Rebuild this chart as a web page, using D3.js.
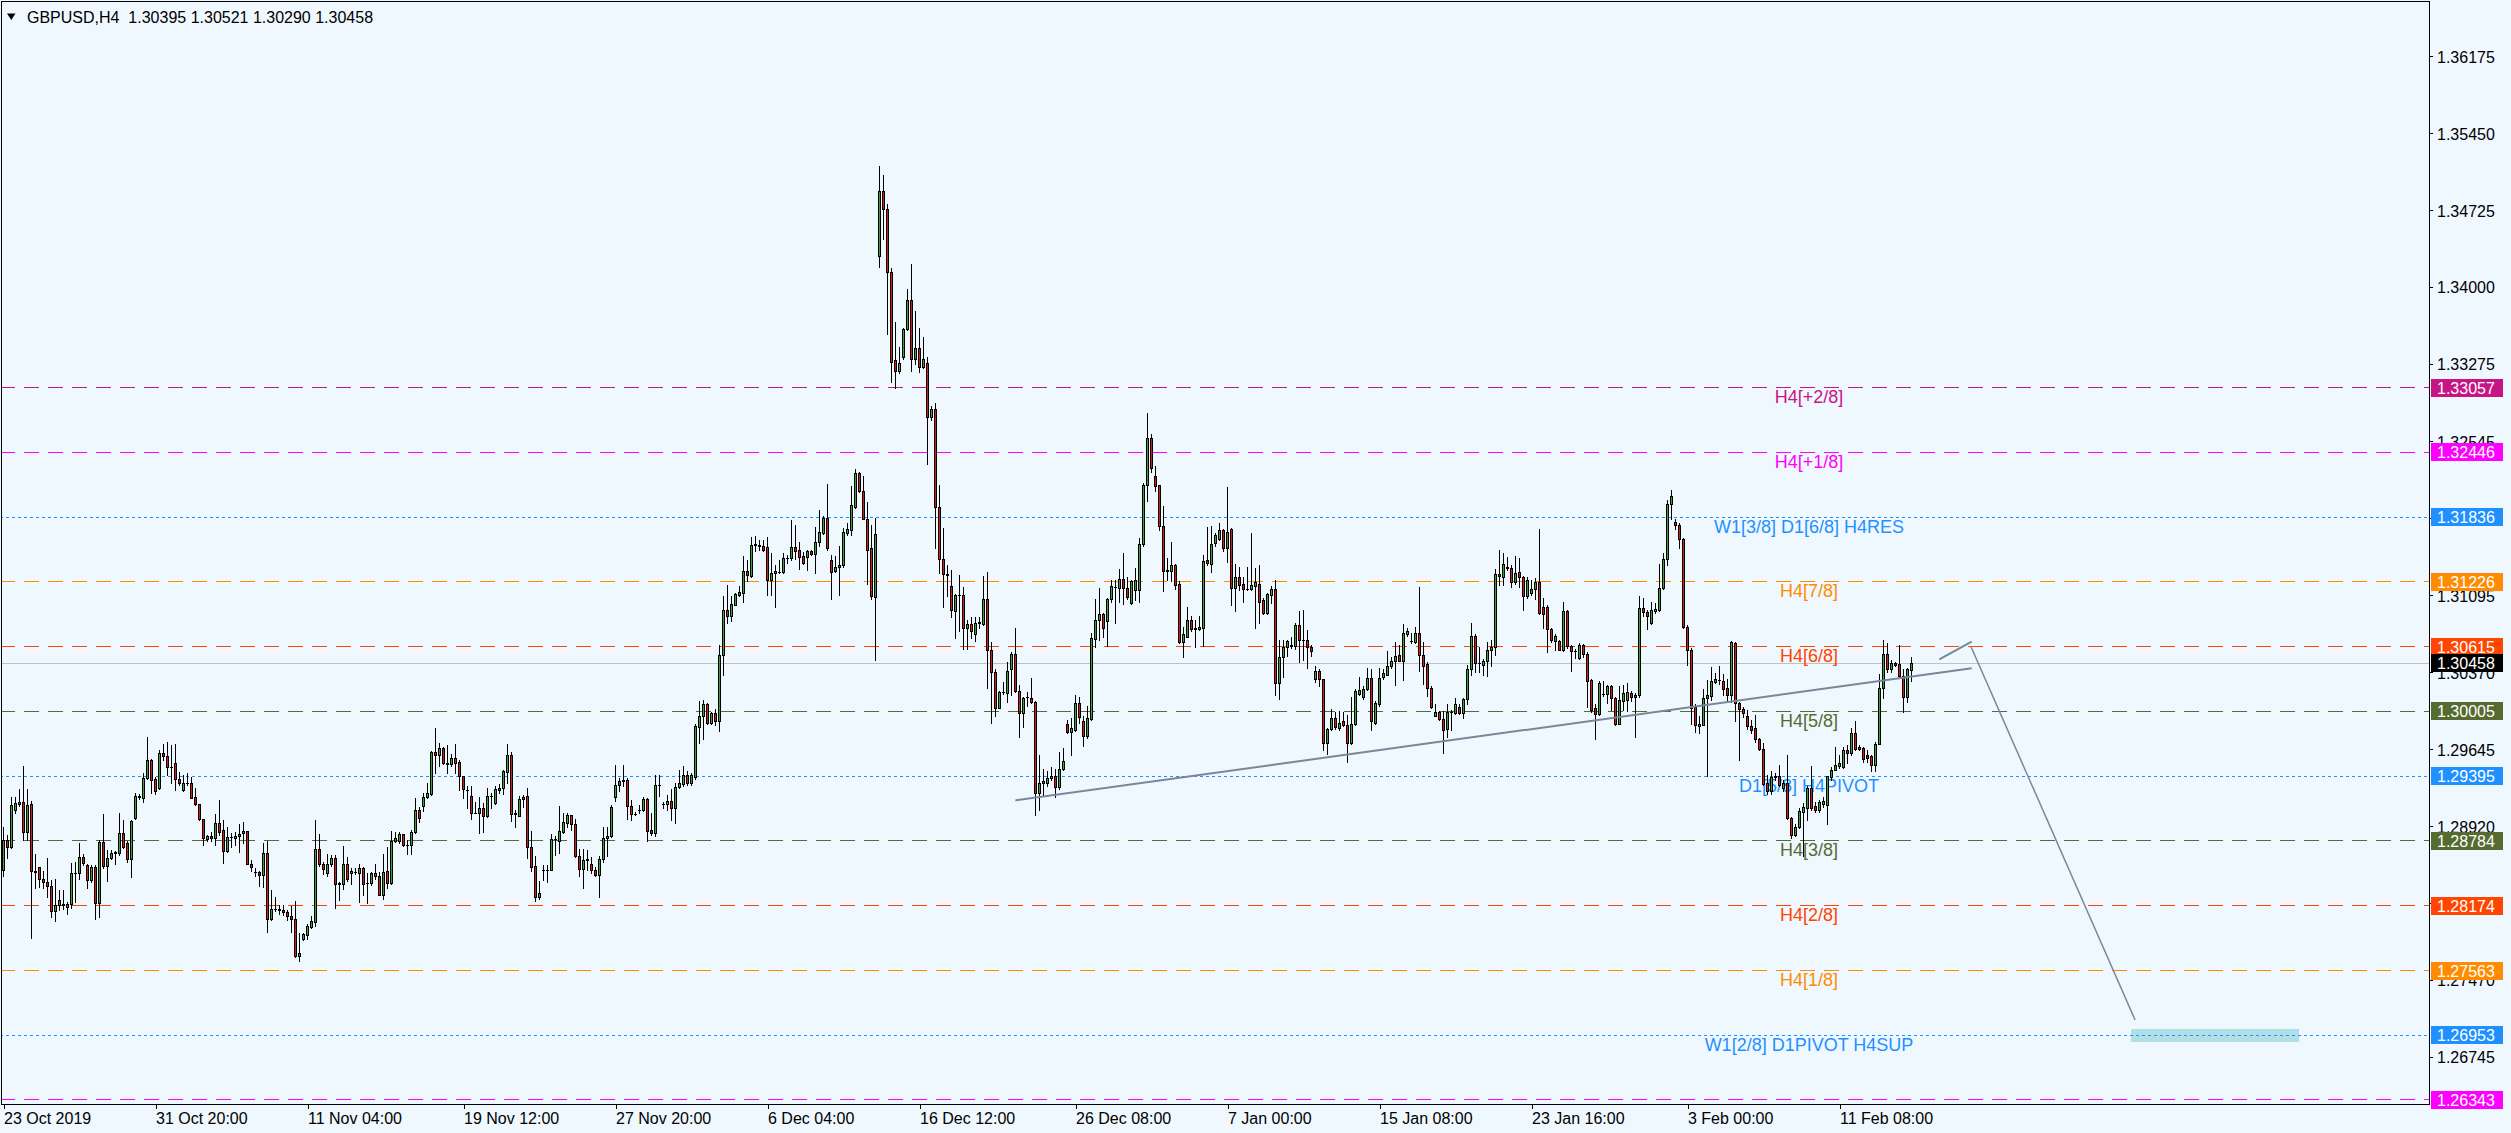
<!DOCTYPE html>
<html><head><meta charset="utf-8">
<script src="https://cdnjs.cloudflare.com/ajax/libs/d3/7.8.5/d3.min.js"></script>
<style>html,body{margin:0;padding:0;background:#F0F8FF;overflow:hidden}</style>
</head><body><script>
// ---------------- DATA (GBPUSD, H4) ----------------
const opens=[
1.2851,1.2879,1.2873,1.2908,1.2913,1.2915,1.2887,1.2913,1.2850,1.2854,
1.2843,1.2840,1.2836,1.2812,1.2818,1.2819,1.2816,1.2819,1.2848,1.2848,
1.2863,1.2856,1.2842,1.2854,1.2820,1.2877,1.2855,1.2862,1.2867,1.2867,
1.2886,1.2876,1.2861,1.2900,1.2921,1.2919,1.2938,1.2955,1.2937,1.2928,
1.2961,1.2958,1.2948,1.2952,1.2937,1.2926,1.2933,1.2933,1.2920,1.2913,
1.2899,1.2880,1.2883,1.2881,1.2895,1.2889,1.2869,1.2882,1.2881,1.2883,
1.2886,1.2888,1.2857,1.2849,1.2849,1.2846,1.2867,1.2805,1.2814,1.2813,
1.2813,1.2811,1.2808,1.2805,1.2770,1.2786,1.2790,1.2797,1.2802,1.2871,
1.2857,1.2848,1.2857,1.2862,1.2838,1.2838,1.2857,1.2848,1.2849,1.2848,
1.2853,1.2839,1.2839,1.2848,1.2845,1.2827,1.2850,1.2839,1.2878,1.2878,
1.2885,1.2875,1.2875,1.2887,1.2908,1.2911,1.2920,1.2923,1.2962,1.2959,
1.2966,1.2952,1.2951,1.2957,1.2953,1.2940,1.2926,1.2921,1.2905,1.2905,
1.2909,1.2902,1.2921,1.2914,1.2926,1.2928,1.2943,1.2959,1.2904,1.2902,
1.2918,1.2921,1.2873,1.2855,1.2826,1.2851,1.2851,1.2851,1.2880,1.2878,
1.2887,1.2895,1.2903,1.2894,1.2864,1.2852,1.2860,1.2857,1.2851,1.2846,
1.2861,1.2881,1.2883,1.2920,1.2931,1.2935,1.2936,1.2911,1.2904,1.2908,
1.2908,1.2918,1.2889,1.2886,1.2931,1.2913,1.2913,1.2916,1.2909,1.2929,
1.2932,1.2941,1.2933,1.2939,1.2986,1.2996,1.3007,1.2990,1.2999,1.2991,
1.3054,1.3096,1.3090,1.3101,1.3110,1.3112,1.3133,1.3128,1.3157,1.3157,
1.3156,1.3155,1.3124,1.3131,1.3132,1.3132,1.3145,1.3145,1.3155,1.3153,
1.3147,1.3146,1.3152,1.3149,1.3160,1.3169,1.3183,1.3143,1.3133,1.3137,
1.3138,1.3169,1.3171,1.3193,1.3225,1.3208,1.3182,1.3154,1.3108,1.3430,
1.3491,1.3474,1.3415,1.3332,1.3321,1.3334,1.3361,1.3388,1.3333,1.3343,
1.3325,1.3329,1.3278,1.3285,1.3193,1.3144,1.3130,1.3119,1.3095,1.3110,
1.3110,1.3079,1.3083,1.3073,1.3084,1.3083,1.3106,1.3058,1.3038,1.3004,
1.3019,1.3018,1.3040,1.3055,1.3020,1.2999,1.3014,1.3013,1.3009,1.2924,
1.2933,1.2933,1.2938,1.2940,1.2929,1.2946,1.2989,1.2981,1.2983,1.3008,
1.2991,1.2977,1.2993,1.3069,1.3087,1.3092,1.3086,1.3106,1.3118,1.3117,
1.3125,1.3117,1.3103,1.3115,1.3115,1.3158,1.3214,1.3258,1.3222,1.3214,
1.3175,1.3133,1.3133,1.3138,1.3121,1.3066,1.3071,1.3087,1.3078,1.3078,
1.3079,1.3143,1.3139,1.3159,1.3163,1.3171,1.3154,1.3172,1.3117,1.3127,
1.3121,1.3116,1.3116,1.3119,1.3121,1.3105,1.3093,1.3110,1.3116,1.3027,
1.3052,1.3061,1.3063,1.3062,1.3082,1.3068,1.3068,1.3061,1.3031,1.3039,
1.3031,1.2971,1.2984,1.2994,1.2985,1.2991,1.2988,1.2971,1.2989,1.3017,
1.3014,1.3022,1.3032,1.2990,1.3007,1.3033,1.3035,1.3043,1.3048,1.3054,
1.3048,1.3073,1.3067,1.3066,1.3074,1.3054,1.3045,1.3023,1.2996,1.3000,
1.2993,1.2984,1.3000,1.2999,1.3005,1.2999,1.3012,1.3040,1.3072,1.3046,
1.3044,1.3048,1.3058,1.3061,1.3130,1.3127,1.3137,1.3136,1.3122,1.3132,
1.3127,1.3109,1.3112,1.3116,1.3122,1.3099,1.3099,1.3078,1.3067,1.3067,
1.3058,1.3095,1.3062,1.3057,1.3051,1.3063,1.3055,1.3030,1.3004,1.2998,
1.3017,1.3017,1.3024,1.3013,1.2989,1.3010,1.3011,1.3018,1.3016,1.3016,
1.3098,1.3094,1.3084,1.3095,1.3096,1.3117,1.3144,1.3196,1.3179,1.3176,
1.3163,1.3080,1.3058,1.3005,1.2987,1.2988,1.3013,1.3015,1.3028,1.3030,
1.3029,1.3023,1.3016,1.3065,1.3008,1.3003,1.2996,1.2987,1.2985,1.2974,
1.2965,1.2933,1.2925,1.2939,1.2940,1.2928,1.2933,1.2900,1.2884,1.2892,
1.2906,1.2909,1.2928,1.2911,1.2908,1.2913,1.2912,1.2939,1.2945,1.2949,
1.2948,1.2964,1.2961,1.2980,1.2967,1.2966,1.2959,1.2958,1.2950,1.2970,
1.3023,1.3055,1.3040,1.3046,1.3045,1.3034,1.3014,1.30395];
const highs=[
1.2892,1.2884,1.2920,1.2920,1.2927,1.2949,1.2927,1.2916,1.2866,1.2854,
1.2850,1.2862,1.2842,1.2843,1.2832,1.2832,1.2821,1.2858,1.2859,1.2876,
1.2866,1.2857,1.2856,1.2856,1.2879,1.2904,1.2870,1.2870,1.2869,1.2905,
1.2898,1.2878,1.2898,1.2924,1.2923,1.2942,1.2976,1.2956,1.2939,1.2964,
1.2970,1.2972,1.2969,1.2970,1.2943,1.2941,1.2942,1.2939,1.2928,1.2913,
1.2899,1.2884,1.2887,1.2904,1.2917,1.2898,1.2892,1.2886,1.2887,1.2894,
1.2896,1.2888,1.2860,1.2853,1.2850,1.2876,1.2878,1.2832,1.2826,1.2818,
1.2818,1.2813,1.2817,1.2822,1.2792,1.2792,1.2800,1.2808,1.2898,1.2885,
1.2859,1.2866,1.2865,1.2865,1.2840,1.2874,1.2863,1.2853,1.2853,1.2857,
1.2854,1.2848,1.2849,1.2857,1.2849,1.2866,1.2873,1.2888,1.2887,1.2887,
1.2885,1.2879,1.2889,1.2919,1.2910,1.2924,1.2933,1.2963,1.2985,1.2971,
1.2967,1.2969,1.2960,1.2970,1.2955,1.2940,1.2930,1.2930,1.2915,1.2920,
1.2914,1.2928,1.2924,1.2930,1.2932,1.2945,1.2970,1.2962,1.2908,1.2921,
1.2922,1.2928,1.2888,1.2864,1.2841,1.2856,1.2856,1.2885,1.2883,1.2911,
1.2905,1.2905,1.2903,1.2899,1.2871,1.2871,1.2870,1.2863,1.2854,1.2864,
1.2892,1.2892,1.2912,1.2950,1.2938,1.2950,1.2938,1.2917,1.2906,1.2912,
1.2920,1.2919,1.2905,1.2941,1.2941,1.2915,1.2922,1.2927,1.2933,1.2945,
1.2949,1.2944,1.2942,1.2989,1.3010,1.3011,1.3008,1.3000,1.3003,1.3063,
1.3109,1.3120,1.3109,1.3112,1.3119,1.3147,1.3143,1.3165,1.3166,1.3162,
1.3162,1.3165,1.3150,1.3138,1.3143,1.3150,1.3148,1.3181,1.3176,1.3160,
1.3151,1.3153,1.3153,1.3174,1.3190,1.3185,1.3215,1.3148,1.3147,1.3156,
1.3173,1.3178,1.3213,1.3229,1.3226,1.3222,1.3198,1.3176,1.3183,1.3514,
1.3506,1.3479,1.3418,1.3367,1.3344,1.3362,1.3399,1.3422,1.3378,1.3362,
1.3353,1.3334,1.3288,1.3291,1.3214,1.3173,1.3138,1.3134,1.3111,1.3129,
1.3118,1.3087,1.3089,1.3089,1.3089,1.3128,1.3132,1.3066,1.3040,1.3020,
1.3028,1.3047,1.3056,1.3079,1.3025,1.3014,1.3019,1.3032,1.3010,1.2959,
1.2946,1.2944,1.2948,1.2946,1.2962,1.2966,1.2992,1.2994,1.3016,1.3014,
1.2996,1.3006,1.3074,1.3106,1.3117,1.3093,1.3107,1.3124,1.3124,1.3135,
1.3150,1.3127,1.3124,1.3136,1.3164,1.3216,1.3282,1.3262,1.3232,1.3214,
1.3194,1.3145,1.3160,1.3139,1.3123,1.3080,1.3099,1.3090,1.3087,1.3090,
1.3148,1.3174,1.3175,1.3169,1.3178,1.3172,1.3212,1.3173,1.3139,1.3137,
1.3127,1.3137,1.3169,1.3136,1.3138,1.3107,1.3112,1.3119,1.3124,1.3068,
1.3068,1.3068,1.3071,1.3084,1.3095,1.3096,1.3077,1.3063,1.3043,1.3040,
1.3031,1.2985,1.3003,1.3000,1.3001,1.3000,1.2997,1.3014,1.3022,1.3033,
1.3024,1.3041,1.3040,1.3010,1.3041,1.3040,1.3057,1.3052,1.3066,1.3063,
1.3083,1.3079,1.3074,1.3080,1.3118,1.3066,1.3047,1.3024,1.3007,1.3001,
1.3001,1.3007,1.3002,1.3013,1.3007,1.3013,1.3044,1.3084,1.3073,1.3061,
1.3050,1.3066,1.3068,1.3135,1.3153,1.3150,1.3146,1.3138,1.3147,1.3145,
1.3128,1.3127,1.3124,1.3126,1.3172,1.3107,1.3101,1.3079,1.3073,1.3068,
1.3104,1.3096,1.3063,1.3059,1.3065,1.3064,1.3056,1.3031,1.3007,1.3029,
1.3029,1.3025,1.3025,1.3014,1.3024,1.3025,1.3027,1.3020,1.3018,1.3109,
1.3107,1.3096,1.3104,1.3103,1.3139,1.3150,1.3200,1.3209,1.3182,1.3178,
1.3164,1.3082,1.3060,1.3007,1.2996,1.3022,1.3030,1.3042,1.3037,1.3043,
1.3036,1.3031,1.3067,1.3066,1.3009,1.3005,1.3002,1.2992,1.2997,1.2975,
1.2971,1.2941,1.2944,1.2942,1.2950,1.2936,1.2959,1.2901,1.2894,1.2909,
1.2914,1.2930,1.2949,1.2915,1.2917,1.2920,1.2940,1.2948,1.2967,1.2959,
1.2967,1.2969,1.2985,1.2991,1.2969,1.2967,1.2964,1.2959,1.2972,1.3036,
1.3068,1.3065,1.3049,1.3047,1.3063,1.3040,1.3041,1.30521];
const lows=[
1.2845,1.2862,1.2872,1.2905,1.2911,1.2879,1.2879,1.2787,1.2834,1.2835,
1.2834,1.2826,1.2807,1.2803,1.2813,1.2814,1.2810,1.2815,1.2821,1.2843,
1.2856,1.2834,1.2840,1.2805,1.2807,1.2853,1.2841,1.2861,1.2857,1.2865,
1.2872,1.2859,1.2844,1.2899,1.2918,1.2915,1.2937,1.2924,1.2923,1.2927,
1.2955,1.2941,1.2933,1.2926,1.2931,1.2925,1.2931,1.2919,1.2912,1.2898,
1.2875,1.2878,1.2878,1.2875,1.2884,1.2858,1.2868,1.2873,1.2875,1.2868,
1.2876,1.2857,1.2850,1.2845,1.2836,1.2835,1.2793,1.2804,1.2812,1.2810,
1.2809,1.2804,1.2793,1.2769,1.2765,1.2785,1.2786,1.2796,1.2798,1.2855,
1.2847,1.2845,1.2855,1.2815,1.2823,1.2833,1.2841,1.2838,1.2847,1.2821,
1.2827,1.2820,1.2837,1.2843,1.2827,1.2824,1.2834,1.2838,1.2877,1.2876,
1.2874,1.2866,1.2866,1.2886,1.2896,1.2907,1.2919,1.2922,1.2942,1.2949,
1.2951,1.2942,1.2949,1.2942,1.2926,1.2919,1.2909,1.2899,1.2905,1.2886,
1.2887,1.2901,1.2909,1.2913,1.2924,1.2923,1.2933,1.2897,1.2892,1.2902,
1.2910,1.2862,1.2850,1.2822,1.2824,1.2842,1.2840,1.2851,1.2865,1.2867,
1.2886,1.2892,1.2889,1.2863,1.2845,1.2834,1.2851,1.2848,1.2845,1.2826,
1.2859,1.2864,1.2882,1.2916,1.2925,1.2930,1.2899,1.2898,1.2903,1.2905,
1.2907,1.2878,1.2884,1.2883,1.2921,1.2909,1.2908,1.2898,1.2895,1.2928,
1.2930,1.2931,1.2931,1.2937,1.2971,1.2974,1.2989,1.2989,1.2988,1.2982,
1.3035,1.3084,1.3086,1.3101,1.3109,1.3104,1.3123,1.3127,1.3152,1.3153,
1.3152,1.3110,1.3110,1.3099,1.3131,1.3131,1.3140,1.3143,1.3144,1.3135,
1.3139,1.3134,1.3148,1.3131,1.3156,1.3168,1.3153,1.3106,1.3132,1.3110,
1.3137,1.3167,1.3167,1.3192,1.3207,1.3182,1.3121,1.3106,1.3049,1.3419,
1.3446,1.3356,1.3311,1.3305,1.3319,1.3333,1.3360,1.3321,1.3328,1.3320,
1.3324,1.3234,1.3275,1.3154,1.3131,1.3099,1.3109,1.3089,1.3070,1.3076,
1.3059,1.3059,1.3070,1.3067,1.3079,1.3082,1.3023,1.2990,1.2996,1.3004,
1.3017,1.3009,1.3016,1.3019,1.2976,1.2986,1.3006,1.3008,1.2903,1.2908,
1.2921,1.2930,1.2936,1.2920,1.2927,1.2945,1.2980,1.2959,1.2982,1.2990,
1.2968,1.2975,1.2992,1.3061,1.3068,1.3071,1.3062,1.3104,1.3084,1.3104,
1.3102,1.3106,1.3102,1.3105,1.3104,1.3156,1.3199,1.3226,1.3208,1.3171,
1.3114,1.3124,1.3123,1.3116,1.3065,1.3052,1.3071,1.3076,1.3061,1.3077,
1.3062,1.3138,1.3132,1.3156,1.3162,1.3152,1.3141,1.3101,1.3095,1.3115,
1.3104,1.3115,1.3115,1.3079,1.3084,1.3092,1.3092,1.3103,1.3016,1.3012,
1.3033,1.3053,1.3060,1.3059,1.3047,1.3049,1.3041,1.3053,1.3028,1.3024,
1.2964,1.2960,1.2983,1.2984,1.2983,1.2987,1.2953,1.2970,1.2988,1.3016,
1.3012,1.3021,1.2983,1.2989,1.3006,1.3031,1.3035,1.3041,1.3025,1.3048,
1.3030,1.3072,1.3065,1.3065,1.3039,1.3026,1.3015,1.3004,1.2996,1.2992,
1.2961,1.2976,1.2983,1.2998,1.2998,1.2994,1.3007,1.3035,1.3038,1.3038,
1.3035,1.3034,1.3043,1.3054,1.3120,1.3120,1.3134,1.3118,1.3121,1.3118,
1.3096,1.3107,1.3110,1.3106,1.3092,1.3079,1.3056,1.3066,1.3058,1.3058,
1.3057,1.3060,1.3039,1.3051,1.3050,1.3052,1.3005,1.3000,1.2974,1.2997,
1.3015,1.3008,1.3002,1.2988,1.2989,1.3002,1.3001,1.3010,1.2976,1.3014,
1.3090,1.3078,1.3083,1.3093,1.3095,1.3116,1.3138,1.3182,1.3172,1.3154,
1.3079,1.3044,1.2989,1.2981,1.2980,1.2988,1.2940,1.3011,1.3027,1.3026,
1.3016,1.3009,1.3009,1.2991,1.2955,1.2995,1.2984,1.2980,1.2972,1.2964,
1.2931,1.2923,1.2923,1.2936,1.2930,1.2925,1.2899,1.2881,1.2883,1.2891,
1.2864,1.2898,1.2908,1.2906,1.2906,1.2910,1.2894,1.2936,1.2945,1.2947,
1.2947,1.2952,1.2959,1.2964,1.2964,1.2953,1.2953,1.2944,1.2944,1.2970,
1.3013,1.3038,1.3038,1.3043,1.3032,1.3000,1.3009,1.30290];
const closes=[
1.2879,1.2873,1.2912,1.2914,1.2915,1.2887,1.2912,1.2850,1.2849,1.2843,
1.2840,1.2836,1.2812,1.2818,1.2823,1.2818,1.2819,1.2848,1.2848,1.2863,
1.2858,1.2842,1.2854,1.2820,1.2877,1.2855,1.2862,1.2867,1.2868,1.2886,
1.2873,1.2861,1.2897,1.2921,1.2920,1.2938,1.2955,1.2936,1.2925,1.2961,
1.2958,1.2948,1.2948,1.2937,1.2933,1.2933,1.2933,1.2919,1.2913,1.2899,
1.2881,1.2883,1.2881,1.2895,1.2887,1.2869,1.2882,1.2882,1.2883,1.2885,
1.2888,1.2857,1.2854,1.2849,1.2846,1.2867,1.2805,1.2814,1.2814,1.2814,
1.2811,1.2808,1.2805,1.2770,1.2773,1.2791,1.2798,1.2803,1.2871,1.2857,
1.2852,1.2857,1.2862,1.2838,1.2839,1.2857,1.2843,1.2850,1.2849,1.2853,
1.2838,1.2839,1.2848,1.2845,1.2827,1.2849,1.2839,1.2878,1.2881,1.2885,
1.2875,1.2875,1.2887,1.2908,1.2900,1.2920,1.2924,1.2962,1.2959,1.2966,
1.2952,1.2951,1.2957,1.2952,1.2940,1.2927,1.2926,1.2905,1.2905,1.2909,
1.2902,1.2921,1.2921,1.2927,1.2928,1.2944,1.2959,1.2904,1.2905,1.2918,
1.2920,1.2873,1.2854,1.2826,1.2829,1.2851,1.2851,1.2880,1.2880,1.2888,
1.2896,1.2903,1.2894,1.2864,1.2852,1.2860,1.2861,1.2851,1.2846,1.2861,
1.2881,1.2883,1.2910,1.2931,1.2935,1.2936,1.2911,1.2904,1.2904,1.2908,
1.2918,1.2888,1.2886,1.2931,1.2931,1.2913,1.2916,1.2909,1.2929,1.2933,
1.2941,1.2933,1.2941,1.2987,1.2996,1.3007,1.2990,1.2999,1.2991,1.3054,
1.3096,1.3090,1.3102,1.3111,1.3113,1.3133,1.3129,1.3157,1.3158,1.3156,
1.3153,1.3124,1.3131,1.3133,1.3132,1.3145,1.3145,1.3155,1.3152,1.3146,
1.3140,1.3152,1.3149,1.3160,1.3170,1.3183,1.3154,1.3132,1.3137,1.3138,
1.3170,1.3172,1.3195,1.3225,1.3208,1.3182,1.3153,1.3109,1.3168,1.3491,
1.3474,1.3415,1.3330,1.3321,1.3329,1.3361,1.3388,1.3333,1.3343,1.3325,
1.3333,1.3278,1.3285,1.3193,1.3144,1.3130,1.3129,1.3096,1.3110,1.3110,
1.3079,1.3083,1.3076,1.3084,1.3085,1.3106,1.3058,1.3038,1.3004,1.3019,
1.3019,1.3039,1.3055,1.3020,1.2999,1.3013,1.3014,1.3009,1.2924,1.2933,
1.2935,1.2938,1.2940,1.2929,1.2946,1.2954,1.2981,1.2985,1.3008,1.2995,
1.2977,1.2994,1.3070,1.3087,1.3092,1.3079,1.3106,1.3119,1.3118,1.3125,
1.3117,1.3108,1.3123,1.3124,1.3158,1.3214,1.3258,1.3230,1.3213,1.3175,
1.3133,1.3134,1.3138,1.3120,1.3066,1.3073,1.3087,1.3078,1.3079,1.3080,
1.3142,1.3140,1.3158,1.3167,1.3171,1.3154,1.3170,1.3117,1.3127,1.3120,
1.3116,1.3116,1.3120,1.3122,1.3104,1.3093,1.3111,1.3116,1.3027,1.3052,
1.3061,1.3067,1.3062,1.3082,1.3068,1.3068,1.3061,1.3057,1.3039,1.3031,
1.2971,1.2984,1.2994,1.2986,1.2990,1.2988,1.2971,1.2989,1.3020,1.3021,
1.3022,1.3032,1.2991,1.3008,1.3032,1.3037,1.3043,1.3048,1.3053,1.3048,
1.3074,1.3076,1.3067,1.3074,1.3054,1.3043,1.3023,1.3005,1.3000,1.2993,
1.2983,1.3000,1.3000,1.3007,1.2999,1.3012,1.3040,1.3072,1.3046,1.3046,
1.3048,1.3058,1.3061,1.3130,1.3128,1.3139,1.3136,1.3122,1.3131,1.3127,
1.3109,1.3124,1.3116,1.3122,1.3093,1.3092,1.3078,1.3068,1.3072,1.3058,
1.3095,1.3062,1.3057,1.3057,1.3063,1.3055,1.3029,1.3002,1.2998,1.3027,
1.3017,1.3024,1.3013,1.2989,1.3011,1.3018,1.3019,1.3014,1.3014,1.3098,
1.3094,1.3090,1.3096,1.3097,1.3117,1.3144,1.3196,1.3203,1.3176,1.3163,
1.3080,1.3058,1.3004,1.2988,1.2989,1.3013,1.3016,1.3029,1.3031,1.3030,
1.3022,1.3016,1.3066,1.3008,1.3003,1.2999,1.2987,1.2983,1.2974,1.2965,
1.2932,1.2925,1.2939,1.2940,1.2931,1.2933,1.2900,1.2884,1.2892,1.2907,
1.2910,1.2928,1.2909,1.2908,1.2915,1.2916,1.2940,1.2945,1.2950,1.2952,
1.2964,1.2961,1.2980,1.2965,1.2965,1.2956,1.2957,1.2950,1.2970,1.3023,
1.3055,1.3040,1.3046,1.3044,1.3034,1.3014,1.3040,1.30458];

const symbolName = "GBPUSD,H4";
const levelValues = [1.33057,1.32446,1.31836,1.31226,1.30615,1.30005,1.29395,1.28784,1.28174,1.27563,1.26953,1.26343];
const levelNames  = ["H4[+2/8]","H4[+1/8]","W1[3/8] D1[6/8] H4RES","H4[7/8]","H4[6/8]","H4[5/8]","D1[5/8] H4PIVOT","H4[3/8]","H4[2/8]","H4[1/8]","W1[2/8] D1PIVOT H4SUP",""];
const yTickValues = [1.36175,1.35450,1.34725,1.34000,1.33275,1.32545,1.31820,1.31095,1.30370,1.29645,1.28920,1.28195,1.27470,1.26745];
const xTickBars   = [0,38,76,115,153,191,229,268,306,344,382,421,459];
const xTickLabels = ["23 Oct 2019","31 Oct 20:00","11 Nov 04:00","19 Nov 12:00","27 Nov 20:00","6 Dec 04:00","16 Dec 12:00","26 Dec 08:00","7 Jan 00:00","15 Jan 08:00","23 Jan 16:00","3 Feb 00:00","11 Feb 08:00"];
// drawn objects, as [bar index, price]
const trendLinePts = [[252.95,1.29166],[492.05,1.30411]];
const arrowShortPts = [[483.95,1.30496],[492.05,1.30662]];
const arrowLongPts  = [[491.8,1.30621],[532.9,1.27097]];
const targetZone    = [[531.9,1.27012],[573.9,1.26889]];

// ---------------- STYLE ----------------
const levelStyles = [
 {c:"#C71585",d:"15,9"},{c:"#FF00FF",d:"15,9"},{c:"#1E90FF",d:"3,3"},{c:"#FF8C00",d:"15,9"},
 {c:"#FF4500",d:"15,9"},{c:"#556B2F",d:"15,9"},{c:"#1E90FF",d:"3,3"},{c:"#556B2F",d:"15,9"},
 {c:"#FF4500",d:"15,9"},{c:"#FF8C00",d:"15,9"},{c:"#1E90FF",d:"3,3"},{c:"#FF00FF",d:"15,9"}];
const BULL="#3E9F3E", BEAR="#D21B1B", BG="#F0F8FF", OBJ="#778899";
const FONT="'Liberation Sans', Arial, sans-serif";

const W=2511, H=1133, PR=2429, PB=1104;
const svg=d3.select("body").append("svg").attr("width",W).attr("height",H).style("display","block");
svg.append("rect").attr("width",W).attr("height",H).attr("fill",BG);

const n=opens.length;
const x=d3.scaleLinear().domain([0,606]).range([3.5,3.5+4*606]);
const y=d3.scaleLinear().domain([1.26305,1.36690]).range([PB,2]);
const py=v=>Math.floor(y(v))+0.5;
const col=i=>Math.floor(x(i));

svg.append("clipPath").attr("id","plot").append("rect").attr("x",1).attr("y",1).attr("width",PR-1).attr("height",PB-1);
const plot=svg.append("g").attr("clip-path","url(#plot)");

// target zone
plot.append("rect")
 .attr("x",x(targetZone[0][0])).attr("width",x(targetZone[1][0])-x(targetZone[0][0]))
 .attr("y",y(targetZone[0][1])).attr("height",y(targetZone[1][1])-y(targetZone[0][1]))
 .attr("fill","#B0E0E6");

// level lines
plot.selectAll("line.lvl").data(levelValues).join("line")
 .attr("x1",0).attr("x2",PR).attr("y1",v=>py(v)).attr("y2",v=>py(v))
 .attr("stroke",(v,i)=>levelStyles[i].c).attr("stroke-dasharray",(v,i)=>levelStyles[i].d)
 .attr("stroke-width",1).attr("shape-rendering","crispEdges");
// current price line
plot.append("line").attr("x1",0).attr("x2",PR).attr("y1",py(closes[n-1])).attr("y2",py(closes[n-1]))
 .attr("stroke","#C0C0C0").attr("shape-rendering","crispEdges");
// level labels
plot.selectAll("text.lvl").data(levelValues).join("text")
 .attr("x",1809).attr("y",v=>y(v)+15.5).attr("text-anchor","middle")
 .attr("font-family",FONT).attr("font-size",18).attr("fill",(v,i)=>levelStyles[i].c)
 .text((v,i)=>levelNames[i]);

// candles
const idx=d3.range(n);
const cg=plot.append("g").attr("shape-rendering","crispEdges");
cg.selectAll("line.wick").data(idx).join("line")
 .attr("x1",i=>col(i)+0.5).attr("x2",i=>col(i)+0.5)
 .attr("y1",i=>Math.round(y(highs[i]))).attr("y2",i=>Math.round(y(lows[i]))+1)
 .attr("stroke","#000");
const bodyTop=i=>Math.min(Math.round(y(opens[i])),Math.round(y(closes[i])));
const bodyH=i=>Math.abs(Math.round(y(opens[i]))-Math.round(y(closes[i])));
cg.selectAll("rect.body").data(idx.filter(i=>bodyH(i)>=1)).join("rect")
 .attr("x",i=>col(i)-0.5).attr("width",2)
 .attr("y",i=>bodyTop(i)+0.5).attr("height",i=>bodyH(i))
 .attr("fill",i=>closes[i]>=opens[i]?BULL:BEAR).attr("stroke","#000").attr("stroke-width",1);
cg.selectAll("line.doji").data(idx.filter(i=>bodyH(i)<1)).join("line")
 .attr("x1",i=>col(i)-1).attr("x2",i=>col(i)+2)
 .attr("y1",i=>bodyTop(i)+0.5).attr("y2",i=>bodyTop(i)+0.5).attr("stroke","#000");

// trend line & arrow
const ln=d3.line().x(d=>x(d[0])).y(d=>y(d[1]));
plot.append("path").attr("d",ln(trendLinePts)).attr("stroke",OBJ).attr("stroke-width",2).attr("fill","none");
plot.append("path").attr("d",ln(arrowShortPts)).attr("stroke",OBJ).attr("stroke-width",2).attr("fill","none");
plot.append("path").attr("d",ln(arrowLongPts)).attr("stroke",OBJ).attr("stroke-width",1.5).attr("fill","none");

// frame
svg.append("rect").attr("x",1.5).attr("y",1.5).attr("width",PR-1).attr("height",PB-1)
 .attr("fill","none").attr("stroke","#000").attr("shape-rendering","crispEdges");

// y axis ticks
const ya=svg.append("g");
ya.selectAll("line").data(yTickValues).join("line")
 .attr("x1",PR).attr("x2",PR+4).attr("y1",v=>py(v)).attr("y2",v=>py(v)).attr("stroke","#000").attr("shape-rendering","crispEdges");
ya.selectAll("text").data(yTickValues).join("text")
 .attr("x",2437).attr("y",v=>y(v)+6).attr("font-family",FONT).attr("font-size",16).attr("fill","#000")
 .text(v=>v.toFixed(5));

// price boxes
const boxes=levelValues.map((v,i)=>({v,c:levelStyles[i].c})).concat([{v:closes[n-1],c:"#000000"}]);
const bx=svg.append("g");
bx.selectAll("rect").data(boxes).join("rect")
 .attr("x",2431).attr("width",72).attr("y",d=>Math.round(y(d.v))-9).attr("height",18).attr("fill",d=>d.c);
bx.selectAll("text").data(boxes).join("text")
 .attr("x",2437).attr("y",d=>y(d.v)+6).attr("font-family",FONT).attr("font-size",16).attr("fill","#fff")
 .text(d=>d.v.toFixed(5));

// x axis
const xa=svg.append("g");
xa.selectAll("line").data(xTickBars).join("line")
 .attr("x1",b=>Math.floor(x(b))+1.5).attr("x2",b=>Math.floor(x(b))+1.5).attr("y1",PB).attr("y2",PB+5)
 .attr("stroke","#000").attr("shape-rendering","crispEdges");
xa.selectAll("text").data(xTickBars).join("text")
 .attr("x",b=>Math.floor(x(b))+1).attr("y",1123.5).attr("font-family",FONT).attr("font-size",16).attr("fill","#000")
 .text((b,i)=>xTickLabels[i]);

// header
svg.append("path").attr("d","M7,13.5L15.5,13.5L11.25,20Z").attr("fill","#000");
svg.append("text").attr("x",27).attr("y",22.5).attr("font-family",FONT).attr("font-size",16).attr("fill","#000")
 .style("white-space","pre")
 .text(symbolName+"  "+[opens[n-1],highs[n-1],lows[n-1],closes[n-1]].map(v=>v.toFixed(5)).join(" "));
</script></body></html>
